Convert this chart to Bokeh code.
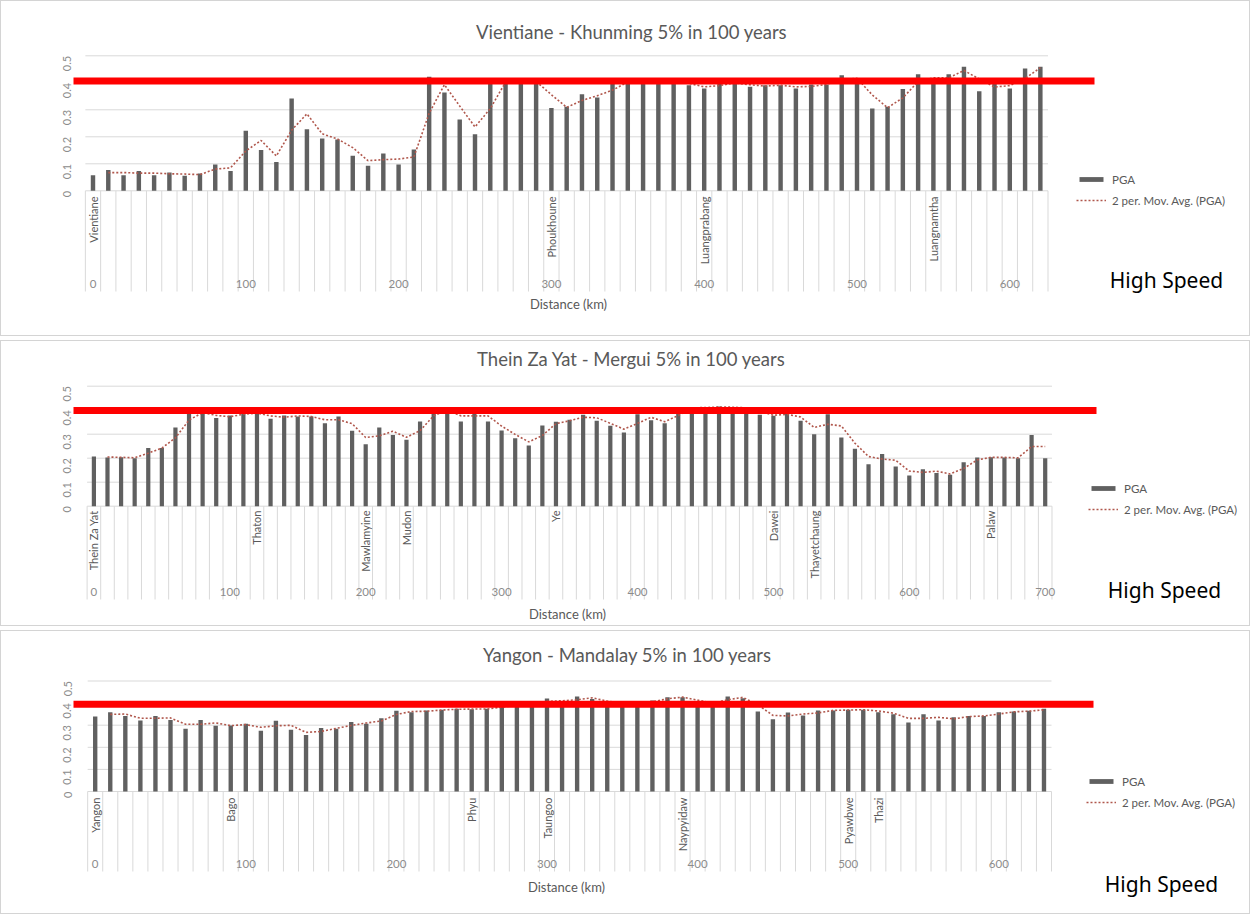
import math
from bokeh.plotting import figure
from bokeh.layouts import column
from bokeh.models import Range1d, FixedTicker, Legend, LegendItem
from bokeh.core.properties import value
from bokeh.embed import file_html
from bokeh.resources import INLINE

# ---------------- data ----------------
pga_ticks = [0, 0.1, 0.2, 0.3, 0.4, 0.5]
high_speed_limit = [0.407, 0.399, 0.395]

# Vientiane - Khunming
vt_title = "Vientiane - Khunming 5% in 100 years"
vt_km = list(range(0, 630, 10))
vt_pga = [0.058, 0.077, 0.058, 0.073, 0.058, 0.068, 0.056, 0.064, 0.097, 0.073,
          0.222, 0.151, 0.107, 0.342, 0.228, 0.194, 0.190, 0.130, 0.093, 0.138,
          0.097, 0.153, 0.422, 0.364, 0.264, 0.209, 0.400, 0.405, 0.405, 0.405,
          0.307, 0.311, 0.358, 0.346, 0.400, 0.405, 0.405, 0.405, 0.405, 0.391,
          0.379, 0.400, 0.400, 0.385, 0.391, 0.391, 0.379, 0.394, 0.394, 0.428,
          0.405, 0.305, 0.311, 0.377, 0.432, 0.405, 0.432, 0.459, 0.369, 0.400,
          0.379, 0.453, 0.459]
vt_stations = ["Vientiane", "Phoukhoune", "Luangprabang", "Luangnamtha"]
vt_station_km = [0, 300, 400, 550]
vt_km_ticks = [0, 100, 200, 300, 400, 500, 600]

# Thein Za Yat - Mergui
tz_title = "Thein Za Yat - Mergui 5% in 100 years"
tz_km = list(range(0, 710, 10))
tz_pga = [0.207, 0.203, 0.204, 0.200, 0.242, 0.242, 0.328, 0.390, 0.390, 0.367,
          0.378, 0.388, 0.388, 0.364, 0.378, 0.374, 0.374, 0.346, 0.374, 0.314,
          0.258, 0.328, 0.297, 0.277, 0.353, 0.400, 0.400, 0.353, 0.400, 0.353,
          0.315, 0.283, 0.253, 0.336, 0.352, 0.360, 0.381, 0.356, 0.335, 0.307,
          0.383, 0.358, 0.346, 0.410, 0.410, 0.412, 0.415, 0.410, 0.410, 0.381,
          0.377, 0.388, 0.356, 0.300, 0.383, 0.286, 0.239, 0.175, 0.218, 0.165,
          0.128, 0.154, 0.138, 0.131, 0.183, 0.203, 0.204, 0.203, 0.200, 0.297,
          0.200]
tz_stations = ["Thein Za Yat", "Thaton", "Mawlamyine", "Mudon", "Ye", "Dawei",
               "Thayetchaung", "Palaw"]
tz_station_km = [0, 120, 200, 230, 340, 500, 530, 660]
tz_km_ticks = [0, 100, 200, 300, 400, 500, 600, 700]

# Yangon - Mandalay
ym_title = "Yangon - Mandalay 5% in 100 years"
ym_km = list(range(0, 640, 10))
ym_pga = [0.339, 0.359, 0.342, 0.321, 0.342, 0.324, 0.284, 0.324, 0.297, 0.299,
          0.306, 0.275, 0.320, 0.279, 0.256, 0.287, 0.284, 0.314, 0.306, 0.332,
          0.365, 0.359, 0.367, 0.370, 0.374, 0.372, 0.374, 0.390, 0.390, 0.395,
          0.421, 0.400, 0.430, 0.418, 0.400, 0.400, 0.400, 0.412, 0.427, 0.427,
          0.400, 0.400, 0.430, 0.422, 0.362, 0.327, 0.357, 0.344, 0.367, 0.367,
          0.370, 0.370, 0.359, 0.350, 0.312, 0.350, 0.321, 0.336, 0.342, 0.342,
          0.359, 0.362, 0.365, 0.374]
ym_stations = ["Yangon", "Bago", "Phyu", "Taungoo", "Naypyidaw", "Pyawbwe", "Thazi"]
ym_station_km = [0, 90, 250, 300, 390, 500, 520]
ym_km_ticks = [0, 100, 200, 300, 400, 500, 600]

# ---------------- styling / layout ----------------
FONT = "Lato"
BAR = "#606060"
GRID = "#d9d9d9"
TXT = "#595959"
TICK = "#8c8c8c"
MA_COL = "#b0574c"
FIG_W = 1250
FRAME_LEFT = 72   # page x of frame left edge

layouts = [
    dict(top=0, h=336, x0=91.5, ppk=1.528, y0=189.3, ppu=270, bw=2.9,
         title=(630, 30), dist=(567, 302), num_y=282, line_bottom=290, st_top=195,
         red=(68, 1093), leg=(1075, 178, 199), hs=(1165, 278)),
    dict(top=340, h=286, x0=92.4, ppk=1.359, y0=504.7, ppu=240, bw=3.1,
         title=(630, 357), dist=(566, 612), num_y=590, line_bottom=598, st_top=509,
         red=(68, 1095), leg=(1087, 487, 508), hs=(1163, 588)),
    dict(top=630, h=284, x0=93.7, ppk=1.506, y0=790, ppu=221, bw=2.9,
         title=(626, 653), dist=(565, 885), num_y=862, line_bottom=870, st_top=796,
         red=(63, 1092), leg=(1085, 780, 801), hs=(1160, 882)),
]


def make_panel(title, km, pga, stations, station_km, km_ticks, limit, L):
    X = lambda px: (px - L["x0"]) / L["ppk"]
    Y = lambda py: (L["y0"] - py) / L["ppu"]
    p = figure(width=FIG_W, height=L["h"],
               x_range=Range1d(X(FRAME_LEFT), X(FIG_W)),
               y_range=Range1d(Y(L["top"] + L["h"]), Y(L["top"])),
               output_backend="svg", toolbar_location=None, x_axis_location=None,
               min_border_left=FRAME_LEFT, min_border_right=0,
               min_border_top=0, min_border_bottom=0,
               styles={"border": "1px solid #d4d4d4"})
    p.outline_line_color = None
    p.grid.visible = False
    p.background_fill_color = "white"
    p.border_fill_color = "white"

    ax = p.yaxis[0]
    ax.ticker = FixedTicker(ticks=pga_ticks)
    ax.major_label_overrides = {0: "0"}
    ax.axis_line_color = None
    ax.major_tick_line_color = None
    ax.minor_tick_line_color = None
    ax.major_label_orientation = math.pi / 2
    ax.major_label_standoff = 0
    ax.major_label_text_font = FONT
    ax.major_label_text_font_size = "11px"
    ax.major_label_text_color = TICK

    half = (km[1] - km[0]) / 2
    left_edge, right_edge = km[0] - half, km[-1] + half
    # horizontal gridlines
    p.segment(x0=[left_edge] * len(pga_ticks), x1=[right_edge] * len(pga_ticks),
              y0=pga_ticks, y1=pga_ticks, line_color=GRID, line_width=1)
    # category separators
    seps = [k - half for k in km] + [right_edge]
    p.segment(x0=seps, x1=seps, y0=[0] * len(seps), y1=[Y(L["line_bottom"])] * len(seps),
              line_color=GRID, line_width=1)

    bars = p.vbar(x=km, top=pga, width=L["bw"], fill_color=BAR, line_color=None)
    ma = [(pga[i - 1] + pga[i]) / 2 for i in range(1, len(pga))]
    ma_r = p.line(x=km[1:], y=ma, line_color=MA_COL, line_width=1.6, line_dash="2 2")

    p.segment(x0=[X(L["red"][0])], x1=[X(L["red"][1])], y0=[limit], y1=[limit],
              line_color="#ff0000", line_width=7)

    p.text(x=station_km, y=[Y(L["st_top"])] * len(stations), text=stations,
           angle=math.pi / 2, text_align="right", text_baseline="middle",
           text_font=value(FONT), text_font_size="11px", text_color=TXT)
    p.text(x=km_ticks, y=[Y(L["num_y"])] * len(km_ticks), text=[str(t) for t in km_ticks],
           text_align="center", text_baseline="middle",
           text_font=value(FONT), text_font_size="11.5px", text_color=TICK)
    p.text(x=[X(L["dist"][0])], y=[Y(L["dist"][1])], text=["Distance (km)"],
           text_align="center", text_baseline="middle",
           text_font=value(FONT), text_font_size="13px", text_color=TXT)
    p.text(x=[X(L["title"][0])], y=[Y(L["title"][1])], text=[title],
           text_align="center", text_baseline="middle",
           text_font=value(FONT), text_font_size="18.5px", text_color=TXT)
    p.text(x=[X(L["hs"][0])], y=[Y(L["hs"][1])], text=["High Speed"],
           text_align="center", text_baseline="middle",
           text_font=value("Noto Sans"), text_font_size="21px", text_color="black")

    lx, r1, r2 = L["leg"]
    frame_bottom = L["top"] + L["h"]
    legend = Legend(items=[LegendItem(label="PGA", renderers=[bars]),
                           LegendItem(label="2 per. Mov. Avg. (PGA)", renderers=[ma_r])],
                    location=(lx - FRAME_LEFT, frame_bottom - (r2 + 7)),
                    orientation="vertical", glyph_width=30, glyph_height=6,
                    label_height=14, spacing=r2 - r1 - 14, padding=0, margin=0,
                    label_standoff=6, border_line_color=None, background_fill_alpha=0,
                    label_text_font=FONT, label_text_font_size="11.5px",
                    label_text_color=TXT)
    p.add_layout(legend)
    return p


p1 = make_panel(vt_title, vt_km, vt_pga, vt_stations, vt_station_km, vt_km_ticks,
                high_speed_limit[0], layouts[0])
p2 = make_panel(tz_title, tz_km, tz_pga, tz_stations, tz_station_km, tz_km_ticks,
                high_speed_limit[1], layouts[1])
p3 = make_panel(ym_title, ym_km, ym_pga, ym_stations, ym_station_km, ym_km_ticks,
                high_speed_limit[2], layouts[2])

page = column(p1, p2, p3, spacing=4)
open("out.html", "w").write(file_html(page, INLINE))
